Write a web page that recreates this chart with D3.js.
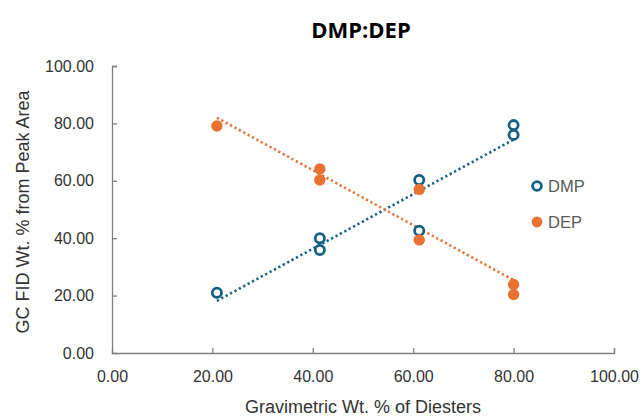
<!DOCTYPE html>
<html>
<head>
<meta charset="utf-8">
<script src="https://cdn.jsdelivr.net/npm/d3@7"></script>
<style>
  html, body { margin: 0; padding: 0; background: #fff; }
  svg { display: block; }
</style>
</head>
<body>
<svg id="chart" width="642" height="416"></svg>
<script>
// Gravimetric composition (x) vs. GC FID measured composition (y)
const xValues   = [20.9, 41.4, 41.4, 61.2, 61.2, 80.0, 80.0];
const dmpValues = [21.0, 40.0, 35.9, 60.3, 42.6, 79.4, 76.0];
const depValues = [79.1, 60.3, 64.1, 39.4, 57.0, 20.4, 23.9];
const seriesNames = ["DMP", "DEP"];
const xTicks = [0, 20, 40, 60, 80, 100];
const yTicks = [0, 20, 40, 60, 80, 100];

const colors = { DMP: "#156082", DEP: "#E97132" };
const FONT = "'Liberation Sans', Arial, sans-serif";

const svg = d3.select("#chart");

const x = d3.scaleLinear().domain([0, 100]).range([112, 614]);
const y = d3.scaleLinear().domain([0, 100]).range([353, 66]);

// Title
svg.append("text")
  .attr("x", 361).attr("y", 38)
  .attr("text-anchor", "middle")
  .attr("font-family", "'Open Sans', 'Noto Sans', sans-serif")
  .attr("font-weight", "bold")
  .attr("font-size", 22)
  .attr("fill", "#000")
  .text("DMP:DEP");

// Axes with inside tick marks
const fmt = d3.format(".2f");
const axisColor = "#808080";
const labelColor = "#333";

const xAxis = svg.append("g")
  .attr("transform", `translate(0,${y(0)})`)
  .call(d3.axisBottom(x).tickValues(xTicks).tickFormat(fmt).tickSize(-5).tickSizeOuter(-5).tickPadding(18));
const yAxis = svg.append("g")
  .attr("transform", `translate(${x(0)},0)`)
  .call(d3.axisLeft(y).tickValues(yTicks).tickFormat(fmt).tickSize(-5).tickSizeOuter(-5).tickPadding(18));

[xAxis, yAxis].forEach(g => {
  g.select(".domain").attr("stroke", axisColor).attr("stroke-width", 1.3);
  g.selectAll(".tick line").attr("stroke", axisColor).attr("stroke-width", 1.3);
  g.selectAll(".tick text")
    .attr("font-family", FONT)
    .attr("font-size", 16)
    .attr("fill", labelColor);
});
// The zero ticks would sit on the other axis line
yAxis.selectAll(".tick").filter(d => d === 0).select("line").remove();
xAxis.selectAll(".tick").filter(d => d === 0).select("line").remove();

// Axis titles
svg.append("text")
  .attr("x", 363).attr("y", 413)
  .attr("text-anchor", "middle")
  .attr("font-family", FONT)
  .attr("font-size", 18)
  .attr("fill", labelColor)
  .text("Gravimetric Wt. % of Diesters");

svg.append("text")
  .attr("transform", `translate(29,212) rotate(-90)`)
  .attr("text-anchor", "middle")
  .attr("font-family", FONT)
  .attr("font-size", 18)
  .attr("fill", labelColor)
  .text("GC FID Wt. % from Peak Area");

// Least-squares linear trend for a series, drawn across the data's x range
function trend(xs, ys) {
  const n = xs.length;
  const mx = d3.mean(xs), my = d3.mean(ys);
  let sxy = 0, sxx = 0;
  for (let i = 0; i < n; i++) { sxy += (xs[i] - mx) * (ys[i] - my); sxx += (xs[i] - mx) ** 2; }
  const b = sxy / sxx, a = my - b * mx;
  const x0 = d3.min(xs), x1 = d3.max(xs);
  return [[x0, a + b * x0], [x1, a + b * x1]];
}

const series = [
  { name: "DMP", values: dmpValues },
  { name: "DEP", values: depValues }
];

const line = d3.line().x(d => x(d[0])).y(d => y(d[1]));

series.forEach(s => {
  svg.append("path")
    .datum(trend(xValues, s.values))
    .attr("d", line)
    .attr("fill", "none")
    .attr("stroke", colors[s.name])
    .attr("stroke-width", 2.6)
    .attr("stroke-dasharray", "2.2,2.8");
});

// Markers
svg.append("g").selectAll("circle")
  .data(xValues.map((xv, i) => [xv, dmpValues[i]]))
  .join("circle")
  .attr("cx", d => x(d[0])).attr("cy", d => y(d[1]))
  .attr("r", 4.6)
  .attr("fill", "#fff")
  .attr("stroke", colors.DMP)
  .attr("stroke-width", 2.8);

svg.append("g").selectAll("circle")
  .data(xValues.map((xv, i) => [xv, depValues[i]]))
  .join("circle")
  .attr("cx", d => x(d[0])).attr("cy", d => y(d[1]))
  .attr("r", 5.7)
  .attr("fill", colors.DEP);

// Legend
const legend = svg.append("g").attr("transform", "translate(537,186)");
seriesNames.forEach((name, i) => {
  const g = legend.append("g").attr("transform", `translate(0,${i * 36})`);
  if (name === "DMP") {
    g.append("circle").attr("r", 4.4).attr("fill", "#fff")
      .attr("stroke", colors.DMP).attr("stroke-width", 2.8);
  } else {
    g.append("circle").attr("r", 5.4).attr("fill", colors.DEP);
  }
  g.append("text")
    .attr("x", 11).attr("y", 6)
    .attr("font-family", FONT)
    .attr("font-size", 16.5)
    .attr("fill", "#595959")
    .text(name);
});
</script>
</body>
</html>
